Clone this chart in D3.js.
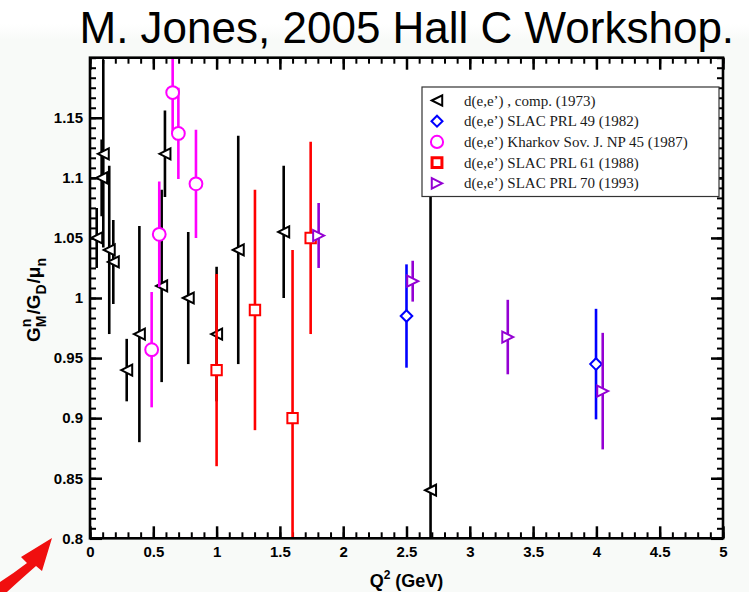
<!DOCTYPE html>
<html>
<head>
<meta charset="utf-8">
<script src="https://cdn.jsdelivr.net/npm/d3@7"></script>
<style>
  html, body { margin: 0; padding: 0; background: #f8faf8; }
  svg { display: block; }
  .tick text { font-family: "Liberation Sans", Arial, sans-serif; font-weight: bold; font-size: 15px; fill: #000; }
</style>
</head>
<body>
<svg id="chart" width="749" height="592"></svg>
<script>
// Neutron magnetic form factor ratio G_M^n / (G_D * mu_n) versus Q^2
const seriesLabels = [
  "d(e,e\u2019) ,  comp. (1973)",
  "d(e,e\u2019) SLAC PRL 49 (1982)",
  "d(e,e\u2019) Kharkov Sov. J. NP 45 (1987)",
  "d(e,e\u2019) SLAC PRL 61 (1988)",
  "d(e,e\u2019) SLAC PRL 70 (1993)"
];
const seriesColors = ["#000000", "#0000ff", "#ff00ff", "#ff0000", "#9400d3"];
const seriesSymbols = ["triangleLeft", "diamond", "circle", "square", "triangleRight"];

// d(e,e'), compilation (1973)
const compQ   = [0.053, 0.092, 0.105, 0.152, 0.184, 0.29, 0.39, 0.566, 0.592, 0.776, 1.0, 1.171, 1.53, 2.69];
const compG   = [1.05, 1.10, 1.12, 1.04, 1.03, 0.94, 0.97, 1.01, 1.12, 1.00, 0.97, 1.04, 1.055, 0.84];
const compErr = [0.025, 0.032, 0.078, 0.07, 0.035, 0.026, 0.09, 0.08, 0.036, 0.055, 0.056, 0.095, 0.055, 0.27];

// SLAC PRL 49 (1982)
const slac82Q   = [2.50, 3.997];
const slac82G   = [0.985, 0.945];
const slac82Err = [0.043, 0.046];

// Kharkov Sov. J. NP 45 (1987)
const kharkovQ   = [0.487, 0.547, 0.653, 0.698, 0.837];
const kharkovG   = [0.957, 1.053, 1.171, 1.137, 1.095];
const kharkovErr = [0.048, 0.044, 0.033, 0.038, 0.045];

// SLAC PRL 61 (1988)
const slac88Q   = [1.0, 1.303, 1.6, 1.743];
const slac88G   = [0.94, 0.99, 0.90, 1.05];
const slac88Err = [0.08, 0.10, 0.14, 0.08];

// SLAC PRL 70 (1993)
const slac93Q   = [1.806, 2.549, 3.30, 4.05];
const slac93G   = [1.052, 1.014, 0.9675, 0.9225];
const slac93Err = [0.027, 0.017, 0.031, 0.0485];

const xMajorTicks = [0, 0.5, 1, 1.5, 2, 2.5, 3, 3.5, 4, 4.5, 5];
const yMajorTicks = [0.8, 0.85, 0.9, 0.95, 1.0, 1.05, 1.1, 1.15];
const xTickLabels = ["0", "0.5", "1", "1.5", "2", "2.5", "3", "3.5", "4", "4.5", "5"];
const yTickLabels = ["0.8", "0.85", "0.9", "0.95", "1", "1.05", "1.1", "1.15"];

const titleText = "M. Jones, 2005 Hall C Workshop.";

const seriesData = [
  [compQ, compG, compErr],
  [slac82Q, slac82G, slac82Err],
  [kharkovQ, kharkovG, kharkovErr],
  [slac88Q, slac88G, slac88Err],
  [slac93Q, slac93G, slac93Err]
].map(([q, g, e], i) => ({
  label: seriesLabels[i], color: seriesColors[i], symbol: seriesSymbols[i],
  points: q.map((v, j) => ({ q: v, g: g[j], err: e[j] }))
}));

const svg = d3.select("#chart");
const W = 749, H = 592;
const plot = { left: 90, right: 723, top: 57.7, bottom: 538.3 };

const x = d3.scaleLinear().domain([0, 5]).range([plot.left, plot.right]);
const y = d3.scaleLinear().domain([0.8, 1.2]).range([plot.bottom, plot.top]);

// soft white band behind the heading
const defs = svg.append("defs");
const grad = defs.append("linearGradient").attr("id", "topband").attr("x1", 0).attr("y1", 0).attr("x2", 0).attr("y2", 1);
grad.append("stop").attr("offset", "0%").attr("stop-color", "#ffffff");
grad.append("stop").attr("offset", "60%").attr("stop-color", "#ffffff");
grad.append("stop").attr("offset", "100%").attr("stop-color", "#f8faf8");
svg.append("rect").attr("x", 0).attr("y", 0).attr("width", W).attr("height", 40).attr("fill", "url(#topband)");

defs.append("clipPath").attr("id", "plotclip").append("rect")
  .attr("x", plot.left).attr("y", plot.top)
  .attr("width", plot.right - plot.left).attr("height", plot.bottom - plot.top);

// plot background
svg.append("rect").attr("x", plot.left).attr("y", plot.top)
  .attr("width", plot.right - plot.left).attr("height", plot.bottom - plot.top)
  .attr("fill", "#ffffff");

// heading
svg.append("text").attr("x", 79.5).attr("y", 43)
  .attr("font-family", "'Liberation Sans', Arial, sans-serif")
  .attr("font-size", 44).attr("fill", "#000").text(titleText);

// axes with inward ticks on all four sides
const xMinor = d3.range(0, 5.0001, 0.1);
const yMinor = d3.range(0, 49).map(i => 0.8 + i * 0.05 / 6);

function styleAxis(g, width) {
  g.select(".domain").remove();
  g.selectAll(".tick line").attr("stroke", "#000").attr("stroke-width", width);
}

svg.append("g").attr("transform", `translate(0,${plot.bottom})`)
  .call(d3.axisBottom(x).tickValues(xMinor).tickSize(-6).tickFormat(""))
  .call(g => styleAxis(g, 2));
svg.append("g").attr("transform", `translate(0,${plot.bottom})`)
  .call(d3.axisBottom(x).tickValues(xMajorTicks).tickSize(-12).tickPadding(8)
        .tickFormat((d, i) => xTickLabels[i]))
  .call(g => styleAxis(g, 2.5))
  .call(g => g.selectAll(".tick text").attr("dy", "0.71em").attr("y", 8));
svg.append("g").attr("transform", `translate(0,${plot.top})`)
  .call(d3.axisTop(x).tickValues(xMinor).tickSize(-6).tickFormat(""))
  .call(g => styleAxis(g, 2));
svg.append("g").attr("transform", `translate(0,${plot.top})`)
  .call(d3.axisTop(x).tickValues(xMajorTicks).tickSize(-12).tickFormat(""))
  .call(g => styleAxis(g, 2.5));

svg.append("g").attr("transform", `translate(${plot.left},0)`)
  .call(d3.axisLeft(y).tickValues(yMinor).tickSize(-6).tickFormat(""))
  .call(g => styleAxis(g, 2));
svg.append("g").attr("transform", `translate(${plot.left},0)`)
  .call(d3.axisLeft(y).tickValues(yMajorTicks).tickSize(-12).tickPadding(7)
        .tickFormat((d, i) => yTickLabels[i]))
  .call(g => styleAxis(g, 2.5));
svg.append("g").attr("transform", `translate(${plot.right},0)`)
  .call(d3.axisRight(y).tickValues(yMinor).tickSize(-6).tickFormat(""))
  .call(g => styleAxis(g, 2));
svg.append("g").attr("transform", `translate(${plot.right},0)`)
  .call(d3.axisRight(y).tickValues(yMajorTicks).tickSize(-12).tickFormat(""))
  .call(g => styleAxis(g, 2.5));

// symbol paths centred on their bounding box
function symbolPath(type, s) {
  switch (type) {
    case "triangleLeft":  return `M${-s},0L${s},${-s}L${s},${s}Z`;
    case "triangleRight": return `M${s},0L${-s},${-s}L${-s},${s}Z`;
    case "diamond":       return `M0,${-s}L${s},0L0,${s}L${-s},0Z`;
    case "square":        return `M${-s},${-s}H${s}V${s}H${-s}Z`;
    case "circle":        return `M${s},0A${s},${s} 0 1 1 ${-s},0A${s},${s} 0 1 1 ${s},0Z`;
  }
}
const symbolSize = { triangleLeft: 5.5, triangleRight: 5.5, diamond: 5.8, square: 5.2, circle: 6.4 };

const dataLayer = svg.append("g").attr("clip-path", "url(#plotclip)");
seriesData.forEach(s => {
  const g = dataLayer.append("g");
  g.selectAll("line.err").data(s.points).join("line").attr("class", "err")
    .attr("x1", d => x(d.q)).attr("x2", d => x(d.q))
    .attr("y1", d => y(d.g - d.err)).attr("y2", d => y(d.g + d.err))
    .attr("stroke", s.color).attr("stroke-width", 2.6);
  g.selectAll("path.sym").data(s.points).join("path").attr("class", "sym")
    .attr("transform", d => `translate(${x(d.q)},${y(d.g)})`)
    .attr("d", symbolPath(s.symbol, symbolSize[s.symbol]))
    .attr("fill", "#ffffff").attr("stroke", s.color).attr("stroke-width", 2);
});

// frame
svg.append("rect").attr("x", plot.left).attr("y", plot.top)
  .attr("width", plot.right - plot.left).attr("height", plot.bottom - plot.top)
  .attr("fill", "none").attr("stroke", "#000").attr("stroke-width", 2.6);

// legend
const legend = svg.append("g");
legend.append("rect").attr("x", 422).attr("y", 87).attr("width", 297).attr("height", 109.5)
  .attr("fill", "#ffffff").attr("stroke", "#333").attr("stroke-width", 1.2);
seriesData.forEach((s, i) => {
  const ry = 100.5 + i * 20.7;
  legend.append("path").attr("transform", `translate(437,${ry})`)
    .attr("d", symbolPath(s.symbol, symbolSize[s.symbol] * 0.95))
    .attr("fill", "#ffffff").attr("stroke", s.color)
    .attr("stroke-width", s.symbol === "square" ? 3 : 2);
  legend.append("text").attr("x", 464).attr("y", ry + 5)
    .attr("font-family", "'Liberation Serif', 'Times New Roman', serif")
    .attr("font-size", 15).attr("fill", "#1a1a1a").text(s.label);
});

// x-axis title
const xt = svg.append("text").attr("x", 406.5).attr("y", 587).attr("text-anchor", "middle")
  .attr("font-family", "'Liberation Sans', Arial, sans-serif").attr("font-weight", "bold")
  .attr("font-size", 18).attr("fill", "#000");
xt.append("tspan").text("Q");
xt.append("tspan").attr("font-size", 12).attr("dy", -8).text("2");
xt.append("tspan").attr("dy", 8).text(" (GeV)");

// y-axis title: G_M^n / G_D / mu_n, built piece by piece
const yl = svg.append("g").attr("font-family", "'Liberation Sans', Arial, sans-serif")
  .attr("font-weight", "bold").attr("fill", "#000");
const inner = yl.append("g");
let cx = 0;
function piece(txt, size, dy) {
  const t = inner.append("text").attr("x", cx).attr("y", dy).attr("font-size", size).text(txt);
  return t.node().getComputedTextLength();
}
cx += piece("G", 19, 0);
const supW = piece("n", 14, -9);
const subW = piece("M", 14, 6);
cx += Math.max(supW, subW) + 1;
cx += piece("/G", 19, 0);
cx += piece("D", 14, 6) + 1;
cx += piece("/\u03bc", 19, 0);
cx += piece("n", 14, 6);
inner.attr("transform", `translate(${-cx / 2},0)`);
yl.attr("transform", `translate(40,300) rotate(-90)`);

// red pointer arrow, lower left
svg.append("path")
  .attr("d", "M0,582 Q14,573 27,563 L21,557 L52,538 L42,571 L36,566 Q20,580 7,592 L0,592 Z")
  .attr("fill", "#f00f0f");
</script>
</body>
</html>
